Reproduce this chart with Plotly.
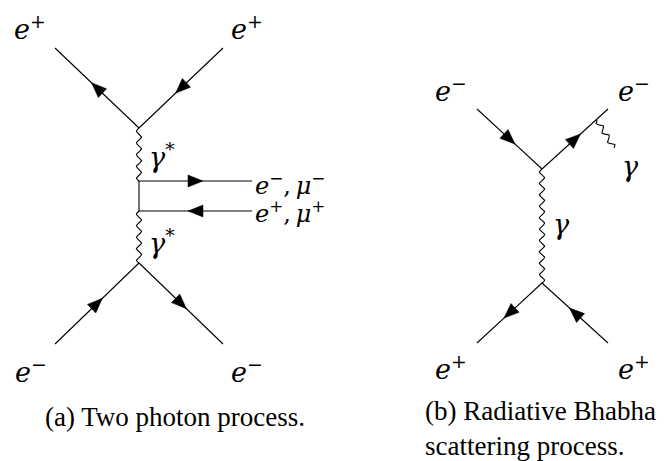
import numpy as np
import plotly.graph_objects as go

# ---- diagram (a): two photon process ----
a_top = (139, 128)            # upper e+ e+ gamma* vertex
a_mid_up = (139, 181)         # upper photon / lepton vertex
a_mid_dn = (139, 211)         # lower photon / lepton vertex
a_bot = (139, 263)            # lower e- e- gamma* vertex
a_ext_tl = (55, 48)
a_ext_tr = (223, 48)
a_ext_bl = (55, 344)
a_ext_br = (223, 344)
a_out_x = 252                 # end of the outgoing lepton pair

# ---- diagram (b): radiative Bhabha scattering ----
b_top = (542, 169)
b_bot = (542, 283)
b_ext_tl = (477, 109)
b_ext_tr = (608, 109)
b_ext_bl = (477, 343)
b_ext_br = (608, 343)
b_rad_start = (597, 120)
b_rad_end = (614, 148)

# particle labels: (x, y, text)
particle_labels = [
    (30, 27, "<i>e</i><sup>+</sup>"),
    (247, 27, "<i>e</i><sup>+</sup>"),
    (162, 155, "<i>γ</i><sup>*</sup>"),
    (162, 241, "<i>γ</i><sup>*</sup>"),
    (31, 370, "<i>e</i><sup>−</sup>"),
    (247, 370, "<i>e</i><sup>−</sup>"),
    (451, 89, "<i>e</i><sup>−</sup>"),
    (634, 89, "<i>e</i><sup>−</sup>"),
    (630, 166, "<i>γ</i>"),
    (561, 224, "<i>γ</i>"),
    (451, 367, "<i>e</i><sup>+</sup>"),
    (634, 367, "<i>e</i><sup>+</sup>"),
]
pair_labels = [
    (184, "<i>e</i><sup>−</sup>,\u2009<i>μ</i><sup>−</sup>"),
    (212, "<i>e</i><sup>+</sup>,\u2009<i>μ</i><sup>+</sup>"),
]
captions = ["(a) Two photon process.", "(b) Radiative Bhabha<br>scattering process."]

LINE = "black"
LW = 1.1
SYM_FONT = "DejaVu Serif, serif"
CAP_FONT = "Liberation Serif, Times New Roman, serif"
SYM = 27
PAIR = 24
CAP = 27

fig = go.Figure()


def straight(p, q):
    fig.add_trace(go.Scatter(x=[p[0], q[0]], y=[p[1], q[1]], mode="lines",
                             line=dict(color=LINE, width=LW), hoverinfo="skip"))


def arrow(p, q, frac=0.5, length=15, half=6):
    """Filled fermion arrow on segment p->q, pointing toward q."""
    p = np.array(p, float)
    q = np.array(q, float)
    d = (q - p) / np.linalg.norm(q - p)
    n = np.array([-d[1], d[0]])
    c = p + (q - p) * frac
    tip = c + d * length / 2
    base = c - d * length / 2
    pts = np.array([tip, base + n * half, base - n * half, tip])
    fig.add_trace(go.Scatter(x=pts[:, 0], y=pts[:, 1], mode="lines", fill="toself",
                             fillcolor=LINE, line=dict(color=LINE, width=0.5),
                             hoverinfo="skip"))


def fermion(p, q, frac=0.5):
    straight(p, q)
    arrow(p, q, frac)


def photon(p, q, wavelength=11.5, amp=2.6):
    p = np.array(p, float)
    q = np.array(q, float)
    L = np.linalg.norm(q - p)
    d = (q - p) / L
    n = np.array([-d[1], d[0]])
    cycles = max(1.0, round(L / wavelength * 2) / 2)
    s = np.linspace(0, 1, 300)
    off = amp * np.sin(2 * np.pi * cycles * s)
    pts = p[None, :] + np.outer(s * L, d) + np.outer(off, n)
    fig.add_trace(go.Scatter(x=pts[:, 0], y=pts[:, 1], mode="lines",
                             line=dict(color=LINE, width=LW), hoverinfo="skip"))


# (a) incoming / outgoing positrons at top
fermion(a_top, a_ext_tl)
fermion(a_ext_tr, a_top)
# (a) virtual photons
photon(a_top, a_mid_up)
photon(a_mid_dn, a_bot)
# (a) produced lepton pair
straight(a_mid_up, a_mid_dn)
fermion(a_mid_up, (a_out_x, a_mid_up[1]))
fermion((a_out_x, a_mid_dn[1]), a_mid_dn)
# (a) electrons at bottom
fermion(a_ext_bl, a_bot)
fermion(a_bot, a_ext_br)

# (b) electrons at top
fermion(b_ext_tl, b_top)
fermion(b_top, b_ext_tr)
photon(b_rad_start, b_rad_end, wavelength=11, amp=2.6)
# (b) exchanged photon
photon(b_top, b_bot)
# (b) positrons at bottom
fermion(b_bot, b_ext_bl)
fermion(b_ext_br, b_bot)

annotations = [dict(x=x, y=y, text=t, showarrow=False, xref="x", yref="y",
                    font=dict(family=SYM_FONT, size=SYM, color="black"),
                    xanchor="center", yanchor="middle") for x, y, t in particle_labels]

annotations += [dict(x=253, y=y, xref="x", yref="y", text=t, showarrow=False,
                     xanchor="left", yanchor="middle",
                     font=dict(family=SYM_FONT, size=PAIR, color="black"))
                for y, t in pair_labels]

annotations += [
    dict(x=175, y=417, xref="x", yref="y", text=captions[0], showarrow=False,
         xanchor="center", yanchor="middle",
         font=dict(family=CAP_FONT, size=CAP, color="black")),
    dict(x=423, y=428, xref="x", yref="y", text=captions[1], showarrow=False,
         xanchor="left", yanchor="middle", align="left",
         font=dict(family=CAP_FONT, size=CAP, color="black")),
]

fig.update_layout(
    width=671, height=461,
    margin=dict(l=0, r=0, t=0, b=0),
    paper_bgcolor="white", plot_bgcolor="white",
    font=dict(family=CAP_FONT, size=CAP, color="black"),
    showlegend=False,
    xaxis=dict(range=[0, 671], visible=False, fixedrange=True),
    yaxis=dict(range=[461, 0], visible=False, fixedrange=True),
    annotations=annotations,
)

fig.write_html("out.html")
